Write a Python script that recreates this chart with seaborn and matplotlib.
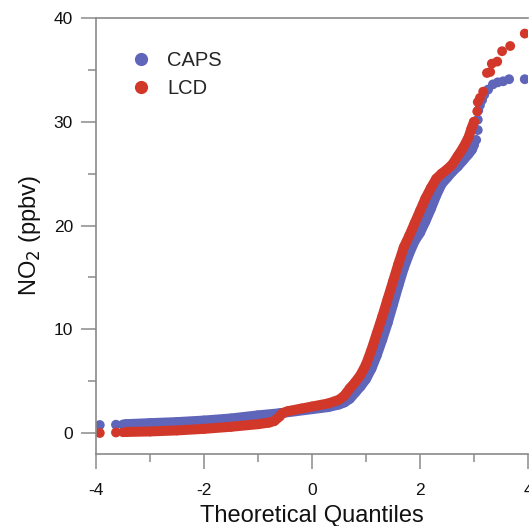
import numpy as np
import pandas as pd
import matplotlib
matplotlib.use("Agg")
import matplotlib.pyplot as plt
import seaborn as sns
from matplotlib.lines import Line2D
from matplotlib.ticker import MultipleLocator

# ---- data (theoretical quantile, sorted NO2 in ppbv) ----
caps_q = [-3.93, -3.63, -3.50, -3.45, -3.0, -2.5, -2.0, -1.5, -1.0, -0.6, -0.3, 0.0, 0.3,
          0.5, 0.6, 0.7, 0.8, 0.9, 1.0, 1.1, 1.2, 1.3, 1.4, 1.5, 1.6, 1.7, 1.8, 1.9, 2.0,
          2.1, 2.2, 2.3, 2.4, 2.5, 2.6, 2.7, 2.8, 2.9, 2.96, 3.0,
          3.04, 3.07, 3.07, 3.08, 3.11, 3.15, 3.19, 3.26, 3.35, 3.44, 3.54, 3.65, 3.94]
caps_no2 = [0.77, 0.80, 0.82, 0.85, 0.95, 1.05, 1.2, 1.4, 1.7, 1.9, 2.1, 2.3, 2.5,
            2.75, 2.95, 3.3, 3.9, 4.5, 5.2, 6.2, 7.5, 9.0, 10.6, 12.4, 14.2, 15.9, 17.3, 18.5, 19.3,
            20.4, 21.6, 22.9, 24.0, 24.6, 25.2, 25.7, 26.3, 26.9, 27.3, 27.8,
            28.25, 29.2, 30.2, 31.1, 31.6, 32.1, 32.6, 33.1, 33.6, 33.8, 33.9, 34.1, 34.1]

lcd_q = [-3.93, -3.63, -3.50, -3.45, -3.0, -2.5, -2.0, -1.5, -1.0, -0.8, -0.7, -0.6, -0.55,
         -0.45, -0.2, 0.0, 0.3, 0.5, 0.6, 0.7, 0.8, 0.9, 1.0, 1.1, 1.2, 1.3, 1.4, 1.5, 1.6,
         1.7, 1.8, 1.9, 2.0, 2.1, 2.2, 2.3, 2.4, 2.5, 2.6, 2.7, 2.8, 2.9, 2.95, 3.0,
         3.06, 3.07, 3.11, 3.17, 3.24, 3.30, 3.33, 3.43, 3.52, 3.67, 3.94]
lcd_no2 = [0.0, 0.05, 0.08, 0.1, 0.15, 0.25, 0.4, 0.6, 0.85, 1.0, 1.15, 1.6, 1.9,
           2.1, 2.35, 2.55, 2.85, 3.2, 3.6, 4.3, 4.9, 5.6, 6.6, 8.0, 9.6, 11.2, 12.9, 14.6, 16.3,
           17.9, 19.0, 20.2, 21.4, 22.6, 23.6, 24.5, 25.0, 25.4, 25.9, 26.7, 27.5, 28.5, 29.3, 30.0,
           31.0, 31.9, 32.3, 32.9, 34.7, 34.8, 35.6, 35.8, 36.8, 37.3, 38.5]

series_names = ["CAPS", "LCD"]
series_colors = ["#5f65b9", "#d2382a"]
xticks = [-4, -2, 0, 2, 4]
yticks = [0, 10, 20, 30, 40]

df = pd.concat([
    pd.DataFrame({"q": caps_q, "no2": caps_no2, "src": "CAPS"}),
    pd.DataFrame({"q": lcd_q, "no2": lcd_no2, "src": "LCD"}),
], ignore_index=True)

sns.set_style("white")
plt.rcParams["font.family"] = ["Liberation Sans", "DejaVu Sans"]

fig = plt.figure(figsize=(5.29, 5.26), dpi=100)
ax = fig.add_axes([96 / 529, (526 - 453.75) / 526, 432 / 529, 435.75 / 526])

for name, col in zip(series_names, series_colors):
    sub = df[df["src"] == name]
    band = sub[(sub["q"] >= -3.45) & (sub["q"] <= 3.0)]
    sns.lineplot(data=band, x="q", y="no2", sort=False, ax=ax, color=col,
                 linewidth=7.2, solid_capstyle="round", solid_joinstyle="round",
                 estimator=None, legend=False)
    sns.scatterplot(data=sub, x="q", y="no2", ax=ax, color=col, s=50,
                    edgecolor="none", linewidth=0, legend=False)

ax.set_xlim(-4, 4)
ax.set_ylim(-2, 40)
ax.set_xticks(xticks)
ax.set_yticks(yticks)
ax.set_xticklabels([str(t) for t in xticks])
ax.set_yticklabels([str(t) for t in yticks])
ax.xaxis.set_minor_locator(MultipleLocator(1))
ax.yaxis.set_minor_locator(MultipleLocator(5))

spine_col = "#8a8a8a"
for s in ["left", "bottom", "top"]:
    ax.spines[s].set_visible(True)
    ax.spines[s].set_color(spine_col)
    ax.spines[s].set_linewidth(1.2)
ax.spines["right"].set_visible(False)

ax.tick_params(axis="both", which="major", direction="out", length=11, width=1.1,
               color=spine_col, labelsize=12.5, pad=5.5, labelcolor="#111111",
               bottom=True, left=True, top=False, right=False)
ax.tick_params(axis="x", which="major", pad=10)
ax.tick_params(axis="both", which="minor", direction="out", length=5.5, width=1.1,
               color=spine_col, bottom=True, left=True, top=False, right=False)

ax.set_xlabel("Theoretical Quantiles", fontsize=17, color="#111111", labelpad=5)
ax.set_ylabel("NO$_2$ (ppbv)", fontsize=17, color="#111111", labelpad=8)

handles = [Line2D([0], [0], marker="o", linestyle="none", markersize=9.5,
                  markerfacecolor=c, markeredgecolor="none") for c in series_colors]
ax.legend(handles, series_names, loc="upper left", bbox_to_anchor=(0.062, 0.943),
          frameon=False, fontsize=14.5, handletextpad=0.8, labelspacing=0.45,
          handlelength=1.0, borderaxespad=0)

fig.savefig("out.png", dpi=100)
